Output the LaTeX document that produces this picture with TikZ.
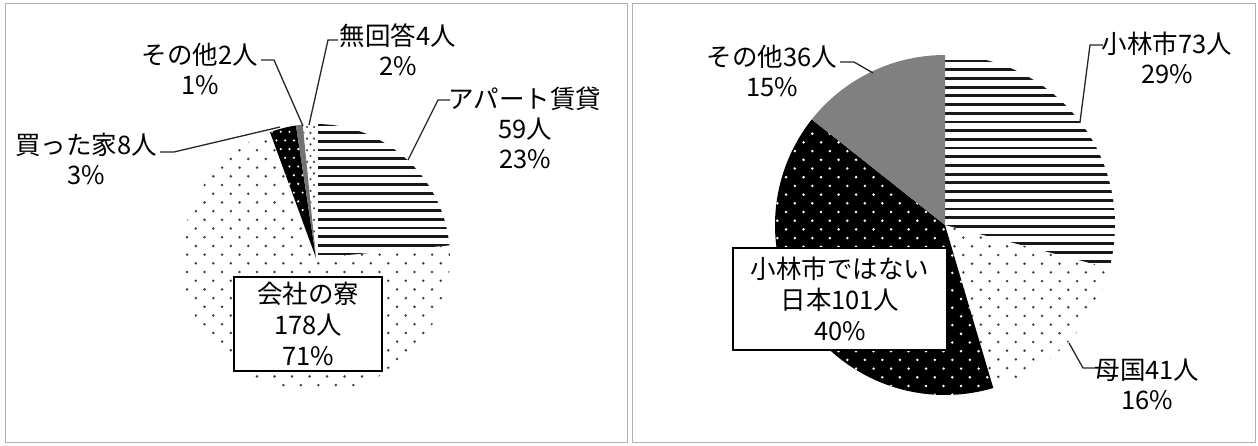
\documentclass[tikz,border=0pt]{standalone}
\usepackage{fontspec}
\setmainfont{Noto Sans CJK JP}
\begin{document}
\begin{tikzpicture}[x=1pt,y=-1pt,
  lbl/.style={font=\fontsize{25.5}{30}\selectfont, align=center, inner sep=0pt},
  boxlbl/.style={font=\fontsize{25.5}{31}\selectfont, align=center, inner sep=0pt, draw=black, line width=1.3pt, fill=white},
  lead/.style={line width=1.3pt, black!85},
  hline/.style={line width=2.8pt, black!90},
  panel/.style={draw=black!30, line width=0.8pt},
  dotc/.style={fill=black!75},
  wdot/.style={fill=white}]
\useasboundingbox (0,0) rectangle (1258,445);
\draw[panel] (5,3) rectangle (627,442);
\draw[panel] (632,3) rectangle (1255,442);

% ---------------- left pie: centre (316,258), r = 134 ----------------
% apartment (horizontal lines)
\begin{scope}
  \clip (316,258) -- plot[domain=0:84.6, samples=60, variable=\t] ({316+134*sin(\t)},{258-134*cos(\t)}) -- cycle;
  \foreach \k in {0,...,15} \draw[hline] (318,{254-8.66*\k}) -- (470,{254-8.66*\k});
\end{scope}
% company dorm (sparse dots)
\begin{scope}
  \clip (316,258) -- plot[domain=84.6:339.9, samples=120, variable=\t] ({316+134*sin(\t)},{258-134*cos(\t)}) -- cycle;
  \foreach \j in {-8,...,8} \foreach \i in {-6,...,10} {
    \fill[dotc] ({283.3+17.5*\i},{263.3+17.4*\j}) circle[radius=1.4pt];
    \fill[dotc] ({292.05+17.5*\i},{272.0+17.4*\j}) circle[radius=1.4pt];
  }
\end{scope}
% bought house (black, white dots)
\begin{scope}
  \clip (316,258) -- plot[domain=339.9:351.4, samples=20, variable=\t] ({316+134*sin(\t)},{258-134*cos(\t)}) -- cycle;
  \fill[black] (260,110) rectangle (320,262);
  \foreach \j in {0,...,8} \foreach \i in {0,...,3} {
    \fill[wdot] ({272+8.75*\i},{131.7+17.4*\j}) circle[radius=1.2pt];
    \fill[wdot] ({276.4+8.75*\i},{140.4+17.4*\j}) circle[radius=1.2pt];
  }
\end{scope}
% other (grey)
\fill[black!55] (316,258) -- plot[domain=351.4:354.3, samples=10, variable=\t] ({316+134*sin(\t)},{258-134*cos(\t)}) -- cycle;
% no answer (fine dots)
\begin{scope}
  \clip (316,258) -- plot[domain=354.3:360, samples=10, variable=\t] ({316+134*sin(\t)},{258-134*cos(\t)}) -- cycle;
  \foreach \j in {0,...,23} \foreach \i in {0,...,3} {
    \fill[dotc] ({300+7*\i},{127+11.6*\j}) circle[radius=1.2pt];
    \fill[dotc] ({303.5+7*\i},{132.8+11.6*\j}) circle[radius=1.2pt];
  }
\end{scope}

% ---------------- right pie: centre (945,225), r = 170 ----------------
\begin{scope}
  \clip (945,225) -- plot[domain=0:104.7, samples=60, variable=\t] ({945+170*sin(\t)},{225-170*cos(\t)}) -- cycle;
  \foreach \k in {0,...,24} \draw[hline] (945,{61+8.7*\k}) -- (1130,{61+8.7*\k});
\end{scope}
\begin{scope}
  \clip (945,225) -- plot[domain=104.7:163.5, samples=50, variable=\t] ({945+170*sin(\t)},{225-170*cos(\t)}) -- cycle;
  \foreach \j in {-2,...,8} \foreach \i in {-1,...,9} {
    \fill[dotc] ({963.3+17.5*\i},{255+17.4*\j}) circle[radius=1.4pt];
    \fill[dotc] ({954.55+17.5*\i},{263.7+17.4*\j}) circle[radius=1.4pt];
  }
\end{scope}
\begin{scope}
  \clip (945,225) -- plot[domain=163.5:308.4, samples=100, variable=\t] ({945+170*sin(\t)},{225-170*cos(\t)}) -- cycle;
  \fill[black] (770,50) rectangle (1010,400);
  \foreach \j in {-7,...,12} \foreach \i in {-1,...,13} {
    \fill[wdot] ({777.3+17.5*\i},{203.3+17.4*\j}) circle[radius=1.4pt];
    \fill[wdot] ({786.05+17.5*\i},{212.0+17.4*\j}) circle[radius=1.4pt];
  }
\end{scope}
\fill[black!50] (945,225) -- plot[domain=308.4:360, samples=50, variable=\t] ({945+170*sin(\t)},{225-170*cos(\t)}) -- cycle;

% ---------------- labels, left ----------------
\node[lbl] (l1) at (200,69) {その他2人\\1\%};
\node[lbl] (l2) at (398,50) {無回答4人\\2\%};
\node[lbl] (l3) at (525,128) {アパート賃貸\\59人\\23\%};
\node[lbl] (l4) at (86,159) {買った家8人\\3\%};
\node[boxlbl, minimum width=148pt, minimum height=94pt] (l5) at (308,324) {会社の寮\\178人\\71\%};

\coordinate (l1a) at (261,60); \coordinate (l1b) at (274,60); \coordinate (l1c) at (303,126);
\coordinate (l2a) at (338,40); \coordinate (l2b) at (328,40); \coordinate (l2c) at (309,125);
\coordinate (l3a) at (450,100); \coordinate (l3b) at (438,100); \coordinate (l3c) at (408,160);
\coordinate (l4a) at (160,152); \coordinate (l4b) at (174,152); \coordinate (l4c) at (280,127);
\draw[lead] (l1a) -- (l1b) -- (l1c);
\draw[lead] (l2a) -- (l2b) -- (l2c);
\draw[lead] (l3a) -- (l3b) -- (l3c);
\draw[lead] (l4a) -- (l4b) -- (l4c);

% ---------------- labels, right ----------------
\node[lbl] (r1) at (1167,58) {小林市73人\\29\%};
\node[lbl] (r2) at (772,71) {その他36人\\15\%};
\node[lbl] (r3) at (1147,384) {母国41人\\16\%};
\node[boxlbl, minimum width=214pt, minimum height=102pt] (r4) at (840,299) {小林市ではない\\日本101人\\40\%};

\coordinate (r1a) at (1103,45); \coordinate (r1b) at (1090,45); \coordinate (r1c) at (1080,122);
\coordinate (r2a) at (840,62); \coordinate (r2b) at (854,62); \coordinate (r2c) at (873,73);
\coordinate (r3a) at (1095,368); \coordinate (r3b) at (1083,368); \coordinate (r3c) at (1069,343);
\draw[lead] (r1a) -- (r1b) -- (r1c);
\draw[lead] (r2a) -- (r2b) -- (r2c);
\draw[lead] (r3a) -- (r3b) -- (r3c);
\end{tikzpicture}
\end{document}
